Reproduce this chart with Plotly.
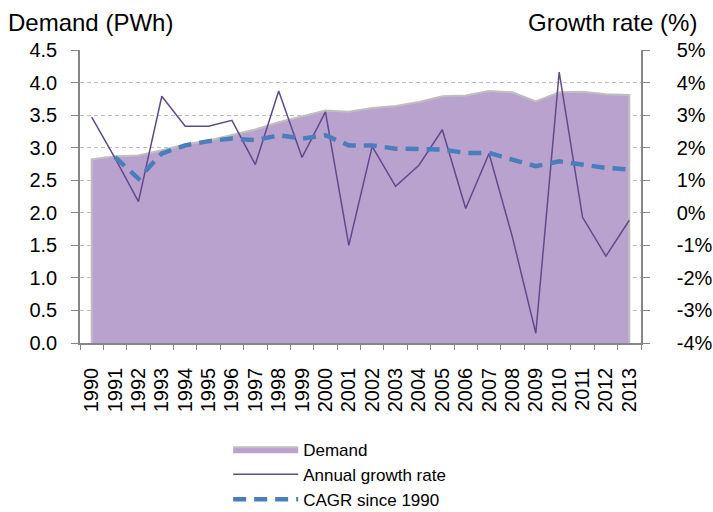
import plotly.graph_objects as go

# Data
years = [str(y) for y in range(1990, 2014)]

demand_pwh = [2.82, 2.87, 2.88, 2.96, 3.05, 3.11, 3.19, 3.28, 3.39, 3.48,
              3.57, 3.55, 3.61, 3.64, 3.70, 3.79, 3.80, 3.87, 3.85, 3.71,
              3.85, 3.86, 3.82, 3.81]

growth_pct = [2.94, 1.68, 0.34, 3.58, 2.66, 2.66, 2.84, 1.48, 3.74, 1.70,
              3.10, -1.00, 2.04, 0.81, 1.46, 2.55, 0.13, 1.82, -0.75, -3.70,
              4.32, -0.14, -1.33, -0.23]

cagr_pct = [None, 1.71, 1.05, 1.82, 2.07, 2.20, 2.28, 2.23, 2.38, 2.28,
            2.38, 2.07, 2.07, 1.97, 1.94, 1.94, 1.84, 1.84, 1.63, 1.43,
            1.58, 1.49, 1.38, 1.33]

left_ticks = [0, 0.5, 1.0, 1.5, 2.0, 2.5, 3.0, 3.5, 4.0, 4.5]
right_ticks = [-4, -3, -2, -1, 0, 1, 2, 3, 4, 5]

FONT = "Liberation Sans, Arial, sans-serif"
AXIS_GREY = "#868686"

fig = go.Figure()

# Demand area (closed so the grey outline runs round the whole shape)
fig.add_trace(
    go.Scatter(
        x=[years[0]] + years + [years[-1]],
        y=[0] + demand_pwh + [0],
        name="Demand",
        mode="lines",
        fill="toself",
        fillcolor="#B9A3CE",
        line=dict(color="#BFBFBF", width=2),
        hoverinfo="skip",
    )
)

# Annual growth rate on the right axis
fig.add_trace(
    go.Scatter(
        x=years,
        y=growth_pct,
        name="Annual growth rate",
        mode="lines",
        line=dict(color="#604A8B", width=1.5),
        yaxis="y2",
    )
)

# CAGR since 1990
fig.add_trace(
    go.Scatter(
        x=years,
        y=cagr_pct,
        name="CAGR since 1990",
        mode="lines",
        line=dict(color="#4A7EBB", width=4.5, dash="13px,8px"),
        yaxis="y2",
    )
)

fig.update_layout(
    width=713,
    height=512,
    margin=dict(l=80, r=72, t=50, b=169, autoexpand=False),
    paper_bgcolor="white",
    plot_bgcolor="white",
    font=dict(family=FONT, size=20, color="black"),
    showlegend=True,
    legend=dict(
        x=0.32,
        y=0.157,
        xref="container",
        yref="container",
        xanchor="left",
        yanchor="top",
        font=dict(size=17),
        itemwidth=65,
        bgcolor="rgba(0,0,0,0)",
        traceorder="normal",
        tracegroupgap=0,
    ),
    xaxis=dict(
        type="category",
        range=[-0.5, 23.5],
        tickmode="array",
        tickvals=years,
        ticktext=years,
        tickangle=-90,
        tickson="boundaries",
        ticks="outside",
        ticklen=5,
        tickcolor=AXIS_GREY,
        showline=True,
        linecolor=AXIS_GREY,
        linewidth=1.5,
        showgrid=False,
        tickfont=dict(size=20),
        ticklabelstandoff=15,
    ),
    yaxis=dict(
        range=[0, 4.5],
        tickvals=left_ticks,
        tickformat=".1f",
        ticks="outside",
        ticklen=7,
        tickcolor=AXIS_GREY,
        showline=True,
        linecolor=AXIS_GREY,
        linewidth=1.5,
        showgrid=True,
        gridcolor="#BFBFBF",
        griddash="4px,3px",
        gridwidth=1,
        zeroline=False,
        tickfont=dict(size=20),
        ticklabelstandoff=10,
    ),
    yaxis2=dict(
        range=[-4, 5],
        tickmode="array",
        tickvals=right_ticks,
        ticktext=[f"{v}%" for v in right_ticks],
        overlaying="y",
        side="right",
        ticks="outside",
        ticklen=7,
        tickcolor=AXIS_GREY,
        showline=True,
        linecolor=AXIS_GREY,
        linewidth=1.5,
        showgrid=False,
        zeroline=False,
        tickfont=dict(size=20),
        ticklabelstandoff=23,
    ),
    annotations=[
        dict(
            text="Demand (PWh)",
            xref="paper",
            yref="paper",
            x=-0.132,
            y=1.095,
            xanchor="left",
            yanchor="middle",
            showarrow=False,
            font=dict(size=24),
        ),
        dict(
            text="Growth rate (%)",
            xref="paper",
            yref="paper",
            x=1.103,
            y=1.095,
            xanchor="right",
            yanchor="middle",
            showarrow=False,
            font=dict(size=24),
        ),
    ],
)

# Drop the browser's default page margin so the figure sits at the top-left corner
fig.write_html(
    "out.html",
    config={"displayModeBar": False},
    post_script="document.body.style.margin = '0';",
)
